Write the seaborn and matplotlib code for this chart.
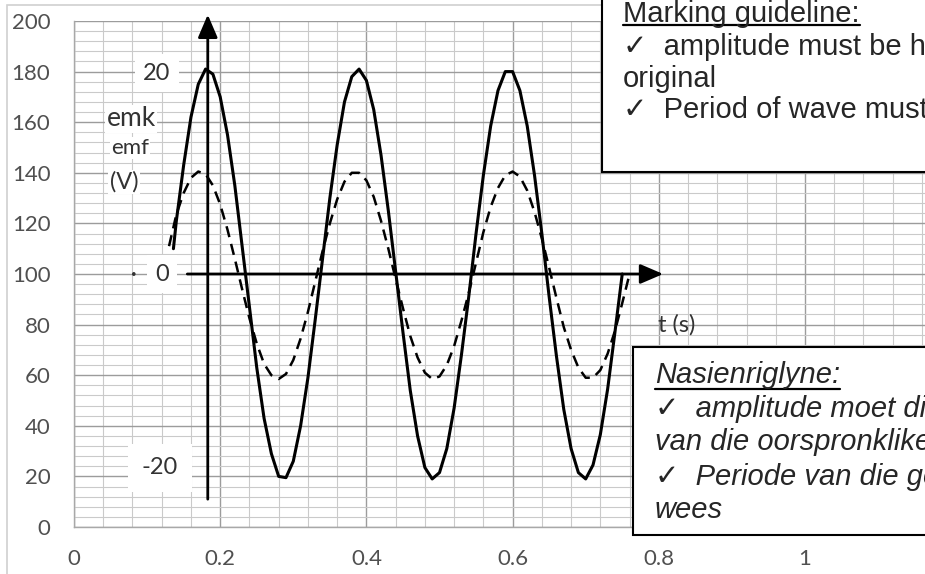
import matplotlib
matplotlib.use("Agg")
import matplotlib.pyplot as plt
from matplotlib.patches import Rectangle, FancyArrowPatch
from matplotlib.lines import Line2D
from matplotlib.transforms import IdentityTransform
import seaborn as sns
import pandas as pd
import numpy as np

# data

t_solid = [0.136, 0.14, 0.15, 0.16, 0.17, 0.18, 0.19, 0.20, 0.21, 0.22,
           0.23, 0.24, 0.25, 0.26, 0.27, 0.28, 0.29, 0.30, 0.31, 0.32,
           0.33, 0.34, 0.35, 0.36, 0.37, 0.38, 0.39, 0.40, 0.41, 0.42,
           0.43, 0.44, 0.45, 0.46, 0.47, 0.48, 0.49, 0.50, 0.51, 0.52,
           0.53, 0.54, 0.55, 0.56, 0.57, 0.58, 0.59, 0.60, 0.61, 0.62,
           0.63, 0.64, 0.65, 0.66, 0.67, 0.68, 0.69, 0.70, 0.71, 0.72,
           0.73, 0.74, 0.75]
emf_solid = [110, 121, 143, 162, 175, 181, 179, 170, 155, 135,
             111, 87, 63, 43, 29, 20, 19.5, 26, 40, 59,
             82, 106, 130, 151, 168, 178, 181, 176.5, 165, 147,
             125, 101, 77, 54, 36, 23.5, 19, 21.5, 31, 47,
             68, 91, 116, 139, 158.5, 172.5, 180, 180, 172.5, 158.5,
             139, 116, 91, 67.5, 46.5, 31, 21.5, 19, 24.5, 36.5,
             54.5, 77, 100]

t_dashed = [0.13, 0.14, 0.15, 0.16, 0.17, 0.18, 0.19, 0.20, 0.21, 0.22,
            0.23, 0.24, 0.25, 0.26, 0.27, 0.28, 0.29, 0.30, 0.31, 0.32,
            0.33, 0.34, 0.35, 0.36, 0.37, 0.38, 0.39, 0.40, 0.41, 0.42,
            0.43, 0.44, 0.45, 0.46, 0.47, 0.48, 0.49, 0.50, 0.51, 0.52,
            0.53, 0.54, 0.55, 0.56, 0.57, 0.58, 0.59, 0.60, 0.61, 0.62,
            0.63, 0.64, 0.65, 0.66, 0.67, 0.68, 0.69, 0.70, 0.71, 0.72,
            0.73, 0.74, 0.75, 0.76]
emf_dashed = [111, 123.5, 132, 138, 140.5, 139.5, 135, 127.5, 117.5, 106,
              94, 82.5, 72.5, 64.5, 60, 58.5, 60.5, 66, 74.5, 85,
              97, 109, 120, 129.5, 136.5, 140, 140, 137, 130.5, 121,
              110, 98, 86.5, 75.5, 67, 61, 58.5, 59.5, 64, 71.5,
              81.5, 92.5, 104.5, 116.5, 126.5, 134, 139, 140.5, 138.5, 133,
              124.5, 114, 102.5, 90.5, 79, 70, 63, 59, 59, 62,
              68.5, 77.5, 88.5, 100]

x_ticks = [0, 0.2, 0.4, 0.6, 0.8, 1.0]
x_ticklabels = ['0', '0.2', '0.4', '0.6', '0.8', '1']
y_ticks = [0, 20, 40, 60, 80, 100, 120, 140, 160, 180, 200]

df_solid = pd.DataFrame({'t': t_solid, 'emf': emf_solid})
df_dashed = pd.DataFrame({'t': t_dashed, 'emf': emf_dashed})

sns.set_style("white")
plt.rcParams['font.family'] = ['Lato', 'DejaVu Sans']

W, H = 925, 574
fig = plt.figure(figsize=(W / 100, H / 100), dpi=100)


def fx(px):
    return px / W


def fy(py):
    return 1 - py / H


# chart area border (light gray)
fig.add_artist(Rectangle((fx(7), fy(H + 20)), 2, fy(5) - fy(H + 20),
                         transform=fig.transFigure, fill=False,
                         edgecolor='#d0d0d0', lw=1.2))

ax = fig.add_axes([fx(74), fy(527), 1 - fx(74), (527 - 21) / H])
ax.set_xlim(0, (W - 74) / 731)
ax.set_ylim(0, 200)

ax.set_xticks(x_ticks)
ax.set_xticklabels(x_ticklabels)
ax.set_xticks(np.arange(0, 1.17, 0.04), minor=True)
ax.set_yticks(y_ticks)
ax.set_yticks(np.arange(0, 201, 4), minor=True)

ax.grid(which='major', color='#9c9c9c', lw=1.0)
ax.grid(which='minor', color='#cacaca', lw=0.8)
ax.set_axisbelow(True)

for s in ['top', 'right']:
    ax.spines[s].set_visible(False)
for s in ['left', 'bottom']:
    ax.spines[s].set_color('#a8a8a8')
    ax.spines[s].set_linewidth(1.0)

ax.tick_params(which='major', length=5, color='#a8a8a8', direction='out',
               labelsize=16, labelcolor='#505050')
ax.tick_params(axis='y', which='major', pad=12)
ax.tick_params(axis='x', which='major', pad=11)
ax.tick_params(which='minor', length=0)

sns.lineplot(data=df_solid, x='t', y='emf', ax=ax, color='black', lw=2.2,
             sort=False, estimator=None)
sns.lineplot(data=df_dashed, x='t', y='emf', ax=ax, color='black', lw=1.8,
             sort=False, estimator=None, dashes=False)
ax.lines[-1].set_dashes((4.5, 2.8))
ax.set_xlabel('')
ax.set_ylabel('')

# hand drawn axes
ax.add_patch(FancyArrowPatch((0.183, 11), (0.183, 202.5),
                             arrowstyle='-|>,head_length=0.7,head_width=0.3',
                             mutation_scale=20, color='black', lw=2.0,
                             clip_on=False, shrinkA=0, shrinkB=0))
ax.add_patch(FancyArrowPatch((0.155, 100), (0.806, 100),
                             arrowstyle='-|>,head_length=0.7,head_width=0.3',
                             mutation_scale=20, color='black', lw=2.0,
                             clip_on=False, shrinkA=0, shrinkB=0))

hand = dict(color='#333333', ha='center', va='center')
wbox = dict(facecolor='white', edgecolor='none', pad=6)
fig.text(fx(157), fy(73), '20', fontsize=17, bbox=wbox, **hand)
fig.text(fx(160), fy(468), '-20', fontsize=17,
         bbox=dict(facecolor='white', edgecolor='none', pad=10), **hand)
fig.text(fx(162), fy(274), '0', fontsize=17, bbox=wbox, **hand)
fig.text(fx(134), fy(274), '•', fontsize=7, **hand)
fig.text(fx(131), fy(119), 'emk', fontsize=19, bbox=dict(facecolor='white', edgecolor='none', pad=1), **hand)
fig.text(fx(130), fy(148), 'emf', fontsize=16, bbox=dict(facecolor='white', edgecolor='none', pad=1), **hand)
fig.text(fx(124), fy(182), '(V)', fontsize=17, bbox=dict(facecolor='white', edgecolor='none', pad=1), **hand)
fig.text(fx(677), fy(325), 't (s)', fontsize=17, **hand)

# marking guideline boxes
fig.add_artist(Rectangle((fx(602), fy(172)), 1, fy(-20) - fy(172),
                         transform=fig.transFigure, facecolor='white',
                         edgecolor='black', lw=1.5))
fig.add_artist(Rectangle((fx(633), fy(535)), 1, fy(347) - fy(535),
                         transform=fig.transFigure, facecolor='white',
                         edgecolor='black', lw=1.5))

bfont = ['Liberation Sans', 'DejaVu Sans']
t1 = fig.text(fx(623), fy(22), 'Marking guideline:', fontsize=21,
              family=bfont, va='baseline')
fig.text(fx(623), fy(55), '\u2713  amplitude must be half of the',
         fontsize=21, family=bfont, va='baseline')
fig.text(fx(623), fy(87), 'original', fontsize=21, family=bfont, va='baseline')
fig.text(fx(623), fy(118), '\u2713  Period of wave must be the same',
         fontsize=21, family=bfont, va='baseline')

t2 = fig.text(fx(655), fy(383), 'Nasienriglyne:', fontsize=21,
              family=bfont, style='italic', va='baseline')
fig.text(fx(655), fy(417), '\u2713  amplitude moet die helfte',
         fontsize=21, family=bfont, style='italic', va='baseline')
fig.text(fx(655), fy(450), 'van die oorspronklike wees',
         fontsize=21, family=bfont, style='italic', va='baseline')
fig.text(fx(655), fy(485), '\u2713  Periode van die golf moet dieselfde',
         fontsize=21, family=bfont, style='italic', va='baseline')
fig.text(fx(655), fy(518), 'wees', fontsize=21, family=bfont,
         style='italic', va='baseline')

# underline the two headings
fig.canvas.draw()
r = fig.canvas.get_renderer()
for t, uy in [(t1, 25), (t2, 389)]:
    bb = t.get_window_extent(renderer=r)
    fig.add_artist(Line2D([bb.x0, bb.x1], [H - uy, H - uy],
                          transform=IdentityTransform(), color='black', lw=1.6))

fig.savefig('out.png', dpi=100)
